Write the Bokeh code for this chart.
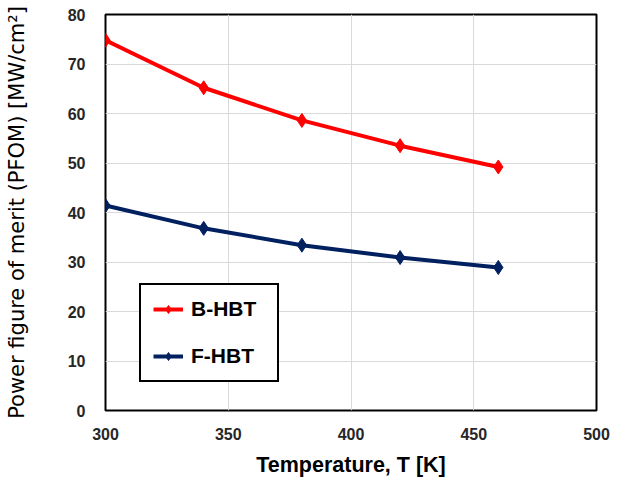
from bokeh.plotting import figure
from bokeh.models import FixedTicker, Legend, LegendItem, Range1d
from bokeh.embed import file_html
from bokeh.resources import INLINE

temperature = [300, 340, 380, 420, 460]
b_hbt = [74.8, 65.2, 58.6, 53.5, 49.2]
f_hbt = [41.4, 36.8, 33.4, 30.9, 28.9]
x_ticks = [300, 350, 400, 450, 500]
y_ticks = [0, 10, 20, 30, 40, 50, 60, 70, 80]

RED = "#FF0000"
NAVY = "#002060"

p = figure(width=610, height=480, output_backend="svg", toolbar_location=None,
           x_range=Range1d(300, 500), y_range=Range1d(0, 80),
           min_border_left=105, min_border_right=14, min_border_top=14, min_border_bottom=70)
p.background_fill_color = "white"
p.border_fill_color = "white"
p.outline_line_color = "black"
p.outline_line_width = 2

p.xaxis.ticker = FixedTicker(ticks=x_ticks)
p.yaxis.ticker = FixedTicker(ticks=y_ticks)
for ax in (p.xaxis, p.yaxis):
    ax.axis_line_color = None
    ax.major_tick_line_color = None
    ax.minor_tick_line_color = None
    ax.major_tick_out = 0
    ax.major_tick_in = 0
    ax.major_label_text_font = "Liberation Sans"
    ax.major_label_text_font_style = "bold"
    ax.major_label_text_font_size = "16px"
    ax.major_label_text_color = "#262626"
p.xaxis.major_label_standoff = 17
p.yaxis.major_label_standoff = 20

p.yaxis.axis_label = "Power figure of merit (PFOM) [MW/cm²]"
p.yaxis.axis_label_text_font = "DejaVu Sans"
p.yaxis.axis_label_text_font_style = "normal"
p.yaxis.axis_label_text_font_size = "21px"
p.yaxis.axis_label_text_color = "black"
p.yaxis.axis_label_standoff = 36

p.xaxis.axis_label = "Temperature, T [K]"
p.xaxis.axis_label_text_font = "Liberation Sans"
p.xaxis.axis_label_text_font_style = "bold"
p.xaxis.axis_label_text_font_size = "21.5px"
p.xaxis.axis_label_text_color = "black"
p.xaxis.axis_label_standoff = 10

p.xgrid.grid_line_color = "#D9D9D9"
p.ygrid.grid_line_color = "#D9D9D9"
p.xgrid.grid_line_width = 1
p.ygrid.grid_line_width = 1

lb = p.line(temperature, b_hbt, line_color=RED, line_width=4)
mb = p.scatter(temperature, b_hbt, marker="diamond", size=14, fill_color=RED, line_color=RED)
lf = p.line(temperature, f_hbt, line_color=NAVY, line_width=4)
mf = p.scatter(temperature, f_hbt, marker="diamond", size=14, fill_color=NAVY, line_color=NAVY)

legend = Legend(items=[LegendItem(label="B-HBT", renderers=[lb, mb]),
                       LegendItem(label="F-HBT", renderers=[lf, mf])],
                location=(34, 28), margin=0, padding=12, spacing=23,
                label_height=20, glyph_height=20, glyph_width=30, label_standoff=8,
                label_width=74,
                border_line_color="black", border_line_width=2, border_line_alpha=1.0,
                background_fill_color="white", background_fill_alpha=1.0,
                label_text_font="Liberation Sans", label_text_font_style="bold",
                label_text_font_size="21px", label_text_color="black")
p.add_layout(legend, "center")

open("out.html", "w").write(file_html(p, INLINE))
